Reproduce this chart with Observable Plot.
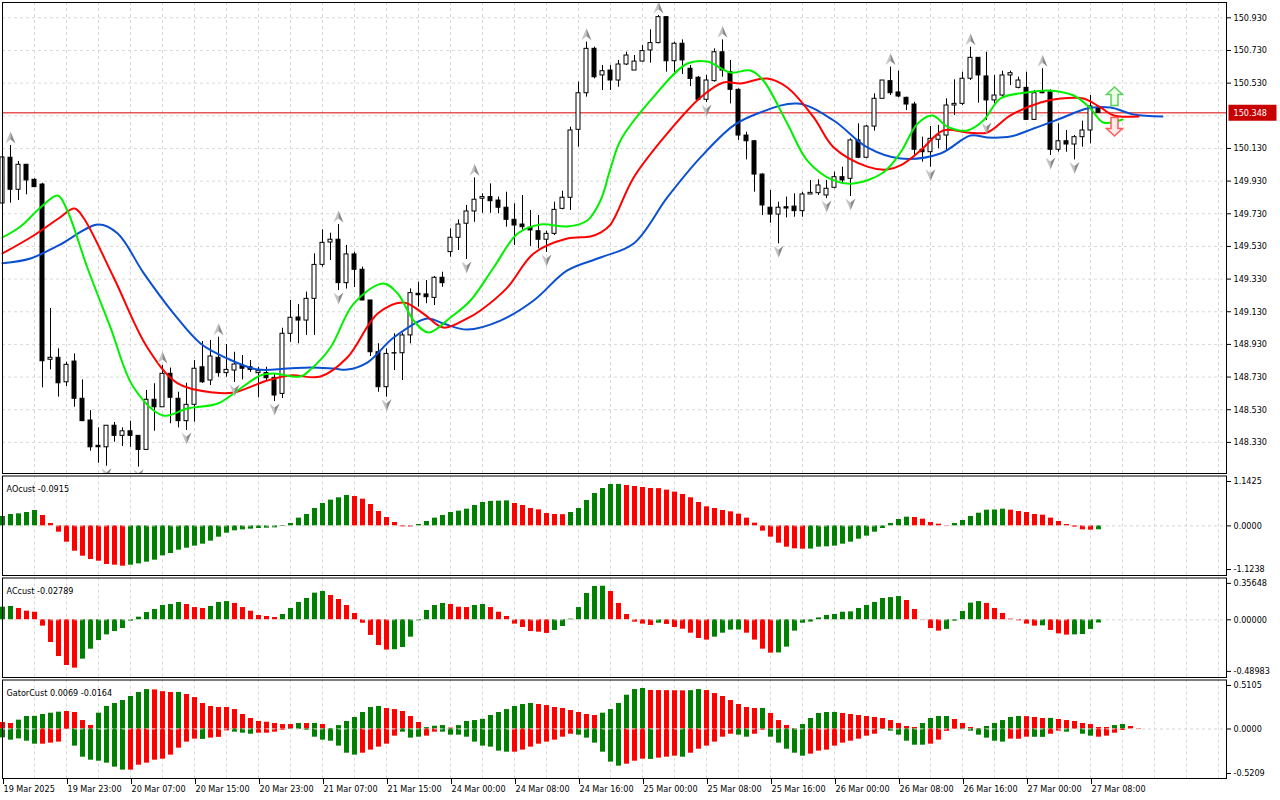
<!DOCTYPE html>
<html><head><meta charset="utf-8">
<script src="https://cdn.jsdelivr.net/npm/d3@7"></script>
<script src="https://cdn.jsdelivr.net/npm/@observablehq/plot@0.6"></script>
<style>
html,body{margin:0;padding:0;background:#fff;}
#wrap{position:relative;width:1280px;height:800px;overflow:hidden;background:#fff;}
#wrap svg{position:absolute;left:0;}
</style></head><body><div id="wrap"></div>
<script>
// ---------- DATA ----------
const timeLabels = ["19 Mar 2025","19 Mar 23:00","20 Mar 07:00","20 Mar 15:00","20 Mar 23:00","21 Mar 07:00","21 Mar 15:00","24 Mar 00:00","24 Mar 08:00","24 Mar 16:00","25 Mar 00:00","25 Mar 08:00","25 Mar 16:00","26 Mar 00:00","26 Mar 08:00","26 Mar 16:00","27 Mar 00:00","27 Mar 08:00"];

const opens = [149.793,150.073,149.877,150.030,149.938,149.909,148.836,148.848,148.698,148.825,
148.597,148.464,148.309,148.300,148.432,148.370,148.398,148.370,148.284,148.591,
148.545,148.750,148.597,148.460,148.560,148.790,148.709,148.848,148.754,148.770,
148.799,148.790,148.754,148.754,148.725,148.627,148.995,149.095,149.076,149.209,
149.417,149.554,149.571,149.305,149.481,149.387,149.199,148.882,148.668,148.876,
148.876,148.985,149.240,149.236,149.215,149.338,149.495,149.583,149.669,149.744,
149.822,149.832,149.811,149.767,149.693,149.664,149.644,149.623,149.571,149.607,
149.760,149.828,150.244,150.468,150.740,150.577,150.607,150.546,150.644,150.607,
150.662,150.730,150.775,150.934,150.664,150.771,150.618,150.563,150.428,150.542,
150.719,150.597,150.489,150.209,150.174,149.970,149.767,149.725,149.770,149.774,
149.746,149.848,149.856,149.842,149.889,149.954,149.944,150.179,150.073,150.264,
150.434,150.542,150.473,150.440,150.399,150.122,150.107,150.183,150.209,150.393,
150.403,150.557,150.685,150.571,150.424,150.454,150.577,150.501,150.501,150.305,
150.481,150.474,150.122,150.174,150.154,150.199,150.240,150.379];
const highs = [150.136,150.148,150.050,150.032,149.944,149.917,149.150,148.903,148.821,148.872,
148.713,148.525,148.419,148.432,148.452,148.419,148.460,148.370,148.648,148.689,
148.801,148.785,148.637,148.692,148.831,148.948,148.954,148.974,148.929,148.882,
148.862,148.831,148.790,148.790,148.750,149.029,149.199,149.174,149.250,149.485,
149.632,149.611,149.664,149.536,149.495,149.403,149.199,148.934,148.903,148.995,
148.999,149.270,149.311,149.321,149.346,149.372,149.638,149.693,149.781,149.950,
149.852,149.913,149.832,149.862,149.791,149.842,149.750,149.719,149.623,149.801,
149.868,150.260,150.536,150.781,150.750,150.638,150.638,150.669,150.719,150.699,
150.760,150.857,150.944,150.938,150.781,150.795,150.638,150.571,150.577,150.740,
150.795,150.669,150.495,150.229,150.179,149.975,149.872,149.801,149.832,149.852,
149.862,149.934,149.938,149.934,149.985,150.015,150.189,150.281,150.271,150.465,
150.546,150.628,150.603,150.444,150.413,150.199,150.264,150.271,150.434,150.550,
150.597,150.750,150.685,150.719,150.577,150.603,150.603,150.566,150.597,150.485,
150.618,150.489,150.281,150.240,150.209,150.297,150.454,150.387];
const lows = [149.781,149.795,149.811,149.846,149.893,148.664,148.774,148.607,148.672,148.545,
148.460,148.276,148.202,148.184,148.331,148.305,148.300,148.178,148.284,148.398,
148.545,148.444,148.419,148.403,148.454,148.692,148.678,148.729,148.729,148.697,
148.713,148.758,148.603,148.709,148.580,148.599,148.943,148.934,148.985,148.985,
149.403,149.444,149.260,149.269,149.278,149.199,148.856,148.637,148.607,148.770,
148.709,148.934,149.158,149.179,149.168,149.280,149.464,149.505,149.450,149.678,
149.733,149.733,149.730,149.648,149.536,149.628,149.530,149.515,149.493,149.597,
149.754,149.750,150.138,150.444,150.556,150.485,150.485,150.505,150.638,150.607,
150.658,150.652,150.771,150.597,150.587,150.583,150.509,150.424,150.411,150.536,
150.566,150.403,150.179,150.060,149.862,149.719,149.672,149.546,149.705,149.709,
149.709,149.848,149.842,149.823,149.883,149.917,149.836,150.067,150.067,150.236,
150.434,150.454,150.440,150.362,150.087,150.046,150.015,150.128,150.117,150.332,
150.393,150.546,150.407,150.301,150.403,150.444,150.515,150.495,150.301,150.301,
150.465,150.087,150.107,150.107,150.060,150.138,150.158,150.348];
const closes = [150.075,149.877,150.030,149.934,149.893,148.827,148.848,148.692,148.805,148.597,
148.460,148.300,148.300,148.432,148.370,148.398,148.370,148.284,148.591,148.545,
148.750,148.603,148.460,148.560,148.781,148.698,148.856,148.754,148.774,148.807,
148.781,148.774,148.766,148.723,148.617,148.995,149.093,149.076,149.209,149.417,
149.552,149.571,149.305,149.481,149.387,149.199,148.882,148.668,148.872,148.874,
148.985,149.244,149.231,149.219,149.338,149.305,149.583,149.664,149.744,149.816,
149.832,149.807,149.767,149.693,149.658,149.648,149.628,149.571,149.607,149.754,
149.828,150.240,150.468,150.740,150.566,150.603,150.546,150.644,150.699,150.662,
150.726,150.775,150.934,150.664,150.771,150.669,150.556,150.428,150.546,150.719,
150.607,150.489,150.209,150.174,149.970,149.781,149.725,149.767,149.762,149.746,
149.848,149.858,149.903,149.883,149.954,149.934,150.179,150.073,150.264,150.434,
150.546,150.468,150.448,150.399,150.122,150.107,150.189,150.209,150.393,150.403,
150.557,150.685,150.577,150.424,150.454,150.577,150.591,150.546,150.305,150.468,
150.468,150.122,150.174,150.154,150.199,150.240,150.387,150.348];

const lastPrice = 150.348;
const priceTicks = [150.93,150.73,150.53,150.13,149.93,149.73,149.53,149.33,149.13,148.93,148.73,148.53,148.33];
const priceGrid = [150.93,150.73,150.53,150.33,150.13,149.93,149.73,149.53,149.33,149.13,148.93,148.73,148.53,148.33];

// Alligator lines: [bar, price]
const jaw = [[0,149.427],[3.5,149.456],[7,149.536],[12,149.664],[14.4,149.609],[17.6,149.370],[21.4,149.119],[24.75,148.936],[28.1,148.844],[31.9,148.776],[35.6,148.782],[38.5,148.789],[41.4,148.782],[43.1,148.776],[45.6,148.819],[48.9,148.972],[53.1,149.089],[55.1,149.058],[58.1,149.021],[62.25,149.076],[66.4,149.199],[70.6,149.383],[74.75,149.462],[78.9,149.548],[83.1,149.830],[87.25,150.075],[91.4,150.271],[94.4,150.344],[99.4,150.405],[103.9,150.301],[108.1,150.136],[112.25,150.068],[117.25,150.099],[121,150.209],[123.1,150.197],[126,150.203],[128.9,150.252],[132.25,150.313],[135.6,150.375],[138.5,150.381],[141.4,150.338],[145,150.326]];
const teeth = [[0,149.487],[3.9,149.597],[7,149.701],[9,149.762],[10.1,149.707],[13.9,149.340],[18.1,148.911],[21.9,148.691],[26.4,148.635],[28.9,148.635],[33.1,148.709],[36,148.740],[39.75,148.733],[43.1,148.850],[46.9,149.119],[50.1,149.187],[52.6,149.119],[55.1,149.033],[58.1,149.089],[59.75,149.138],[63.1,149.278],[66.4,149.487],[70.6,149.578],[73.5,149.591],[74.75,149.615],[76,149.664],[78.9,149.952],[83.1,150.222],[87.25,150.442],[90.1,150.534],[92.25,150.528],[95.6,150.558],[98.1,150.503],[101.4,150.320],[103.9,150.136],[108.1,150.019],[110.6,150.001],[112.25,150.026],[114.75,150.117],[117.6,150.240],[120.6,150.228],[123.1,150.228],[126,150.332],[129.75,150.411],[132.25,150.436],[135.1,150.436],[137.25,150.381],[138.9,150.332],[142,150.326]];
const lips = [[0,149.585],[2.25,149.652],[4.75,149.768],[6.9,149.842],[8.1,149.750],[10.6,149.401],[13.5,149.033],[16.4,148.666],[20.1,148.495],[23.1,148.537],[26.9,148.568],[29.4,148.648],[32.25,148.740],[33.9,148.752],[37.25,148.733],[38.5,148.776],[41,148.911],[43.9,149.180],[47.6,149.303],[49.4,149.242],[51.4,149.076],[53.25,149.003],[56,149.095],[58.5,149.199],[61.4,149.401],[64.4,149.609],[67.25,149.664],[70.6,149.652],[73.1,149.689],[74.75,149.811],[76,150.007],[77.25,150.179],[81,150.424],[85.6,150.650],[88.1,150.662],[91,150.595],[93.5,150.607],[95.1,150.546],[98.1,150.283],[100.6,150.056],[103.9,149.934],[106.4,149.915],[110.1,149.983],[112.25,150.105],[114.4,150.283],[116.25,150.332],[118.1,150.264],[120.6,150.240],[122.6,150.301],[124.75,150.436],[128.1,150.473],[130.6,150.485],[133.9,150.454],[136,150.375],[137.6,150.289],[140,150.307]];

const upFractalBars = [1,20,27,42,59,73,82,90,111,121,130];
const downFractalBars = [13,17,23,29,34,42,48,58,68,88,97,103,106,116,123,131,134];
const signals = [{bar:139, price:150.448, dir:"up"},{bar:139, price:150.264, dir:"down"}];

const aoValues = [0.222,0.269,0.285,0.316,0.364,0.246,0.057,-0.148,-0.384,-0.597,
-0.715,-0.793,-0.833,-0.911,-0.927,-0.951,-0.927,-0.896,-0.856,-0.809,
-0.707,-0.652,-0.573,-0.526,-0.478,-0.431,-0.360,-0.266,-0.172,-0.116,
-0.093,-0.077,-0.061,-0.054,-0.046,-0.014,0.057,0.183,0.269,0.411,
0.529,0.608,0.663,0.718,0.694,0.631,0.505,0.340,0.198,0.080,
-0.022,-0.025,0.033,0.104,0.183,0.246,0.316,0.348,0.395,0.482,
0.553,0.578,0.584,0.590,0.529,0.482,0.411,0.379,0.292,0.269,
0.265,0.316,0.411,0.600,0.765,0.883,0.977,0.980,0.954,0.930,
0.907,0.883,0.880,0.844,0.797,0.742,0.663,0.553,0.450,0.411,
0.364,0.332,0.277,0.183,0.065,-0.124,-0.266,-0.408,-0.502,-0.541,
-0.549,-0.547,-0.502,-0.494,-0.478,-0.431,-0.384,-0.313,-0.242,-0.148,
-0.061,0.057,0.151,0.206,0.198,0.159,0.080,0.041,0.009,0.057,
0.127,0.222,0.300,0.371,0.375,0.395,0.371,0.340,0.316,0.269,
0.253,0.183,0.104,0.033,-0.030,-0.093,-0.101,-0.0915];
const aoColors = "GGGGGRRRRR RRRRRRGGGG GGGGGGGGGG GGGGGGGGGG GGGGRRRRRR RRGGGGGGGG GGGGRRRRRR RGGGGGGGRR RRRRRRRRRR RRRRRRRRRR RGGGGGGGGG GGGGRRRRRG GGGGGGRRRR RRRRRRRG";
const aoTicks = [1.1425, 0, -1.1238];

const acValues = [0.111,0.117,0.100,0.076,0.067,-0.056,-0.200,-0.324,-0.403,-0.426,
-0.347,-0.259,-0.183,-0.133,-0.103,-0.077,-0.012,0.023,0.064,0.091,
0.126,0.135,0.153,0.135,0.108,0.100,0.117,0.153,0.161,0.144,
0.108,0.076,0.038,0.029,0.020,0.047,0.100,0.153,0.188,0.235,
0.250,0.214,0.179,0.126,0.056,-0.030,-0.138,-0.227,-0.267,-0.264,
-0.244,-0.153,-0.009,0.082,0.126,0.144,0.135,0.111,0.108,0.126,
0.135,0.108,0.067,0.029,-0.038,-0.068,-0.103,-0.109,-0.120,-0.094,
-0.059,0.006,0.108,0.232,0.294,0.296,0.250,0.144,0.047,-0.021,
-0.038,-0.050,-0.030,-0.041,-0.068,-0.083,-0.118,-0.165,-0.179,-0.153,
-0.118,-0.091,-0.090,-0.118,-0.179,-0.259,-0.294,-0.292,-0.241,-0.100,
-0.030,-0.020,0.017,0.038,0.047,0.067,0.070,0.100,0.126,0.153,
0.188,0.196,0.205,0.170,0.091,-0.003,-0.077,-0.100,-0.085,-0.012,
0.073,0.147,0.161,0.144,0.100,0.056,0.006,-0.009,-0.038,-0.056,
-0.053,-0.094,-0.124,-0.135,-0.133,-0.130,-0.085,-0.0279];
const acColors = "GGRRRRRRRR GGGGGGGGGG GGGRRRGGGR RRRRRGGGGG GRRRRRRRRG GGGGGGRRRG GRRRRRRRRG GGGGGGRRRR RRGRRRRRRG GGGRRRRGGG GGGGGGGGGG GGGRRRRRGG GGGRRRRRRR GRRRGGGG";
const acTicks = [0.35648, 0, -0.48983];

const gatorUp = [0.070,0.059,0.095,0.134,0.136,0.156,0.170,0.181,0.188,0.177,
0.091,0.038,0.170,0.242,0.274,0.306,0.349,0.392,0.424,0.420,
0.401,0.392,0.393,0.371,0.338,0.274,0.242,0.231,0.231,0.209,
0.156,0.113,0.081,0.073,0.059,0.048,0.048,0.059,0.059,0.060,
0.048,0.005,0.037,0.081,0.124,0.177,0.231,0.242,0.220,0.209,
0.188,0.134,0.070,0.015,0.030,0.037,0.010,0.037,0.081,0.091,
0.104,0.145,0.177,0.209,0.242,0.263,0.274,0.263,0.252,0.231,
0.220,0.199,0.177,0.156,0.145,0.170,0.209,0.274,0.363,0.424,
0.435,0.414,0.413,0.412,0.411,0.410,0.412,0.424,0.413,0.381,
0.349,0.306,0.263,0.231,0.220,0.221,0.167,0.091,0.038,0.005,
0.048,0.113,0.167,0.177,0.178,0.167,0.156,0.145,0.134,0.124,
0.113,0.091,0.059,0.027,0.016,0.059,0.113,0.134,0.134,0.102,
0.059,0.016,0.005,0.027,0.059,0.091,0.124,0.134,0.133,0.124,
0.113,0.114,0.102,0.091,0.081,0.059,0.048,0.016,0.016,0.037,
0.048,0.027,0.005];
const gatorUpColors = "RRGGGGGGRR RRGGGGGGGR RRGRRRRRRR RRRRRRRGRG RGGGGGGGRR RRRGGGRGGG GGGGGGGRRR RRRRRGGGGG GRRRRRGGRR RRRRRGRRRR GGGGGRRRRR RRRRRGGGGR RRRGGGGGRR RGRRRRRRRG GRR";
const gatorDown = [-0.095,-0.120,-0.106,-0.131,-0.163,-0.163,-0.152,-0.141,-0.005,-0.184,
-0.303,-0.335,-0.346,-0.367,-0.410,-0.442,-0.442,-0.389,-0.367,-0.335,
-0.324,-0.281,-0.206,-0.141,-0.109,-0.112,-0.098,-0.090,-0.020,-0.034,
-0.045,-0.056,-0.045,-0.045,-0.034,-0.013,-0.005,-0.005,-0.013,-0.088,
-0.120,-0.131,-0.184,-0.260,-0.281,-0.260,-0.227,-0.195,-0.163,-0.077,
-0.034,-0.098,-0.088,-0.077,-0.034,-0.034,-0.066,-0.066,-0.088,-0.141,
-0.184,-0.195,-0.238,-0.249,-0.249,-0.227,-0.195,-0.163,-0.141,-0.120,
-0.088,-0.056,-0.066,-0.098,-0.152,-0.249,-0.356,-0.399,-0.378,-0.346,
-0.324,-0.327,-0.313,-0.303,-0.292,-0.303,-0.260,-0.217,-0.184,-0.141,
-0.088,-0.056,-0.066,-0.088,-0.056,-0.013,-0.088,-0.152,-0.217,-0.260,
-0.292,-0.270,-0.238,-0.227,-0.184,-0.152,-0.131,-0.109,-0.077,-0.056,
-0.005,-0.023,-0.066,-0.131,-0.174,-0.174,-0.163,-0.120,-0.025,-0.005,
-0.007,-0.023,-0.066,-0.098,-0.131,-0.141,-0.109,-0.110,-0.088,-0.089,
-0.090,-0.056,-0.023,-0.034,-0.002,-0.056,-0.077,-0.088,-0.077,-0.045,
-0.016];
const gatorDownColors = "GGGGGRRRRG GGGGGGRRRR RRRRRGRRRG GGRRRRGGGG GGGGGRRRRR GGGRRGGGGG GGGGRRRRRR RRGGGGGGRR RGRRRGRRRR RRGGRRGGGG GRRRRRRRRR GGGGGGRRRR GGGGGGRRRG GRRGRGGRRRR";
const gatorTicks = [0.5105, 0, -0.5209];

const panelTitles = ["AOcust -0.0915", "ACcust -0.02789", "GatorCust 0.0069 -0.0164"];

// ---------- BUILD ----------
const FONT = '"DejaVu Sans Condensed","Liberation Sans Narrow","Liberation Sans",sans-serif';
const GREEN = "#008000", RED = "#ff0000";
const GRID = "#d9d9d9";
const wrap = document.getElementById("wrap");
const xScale = {domain: [0, 153], axis: null};
const gridBars = d3.range(4, 153, 4);
const timeTicks = timeLabels.map((_, k) => k * 8);

const candles = opens.map((o, i) => ({i, o, h: highs[i], l: lows[i], c: closes[i]}));
const bull = candles.filter(d => d.c >= d.o), bear = candles.filter(d => d.c < d.o);
const upFr = upFractalBars.map(i => candles[i]);
const dnFr = downFractalBars.map(i => candles[i]);

const poly = pts => ({draw(ctx) { ctx.moveTo(pts[0][0], pts[0][1]); for (const p of pts.slice(1)) ctx.lineTo(p[0], p[1]); ctx.closePath(); }});
const frUpL = poly([[0,-6],[-5,6],[0,2]]), frUpR = poly([[0,-6],[0,2],[5,6]]);
const frDnL = poly([[0,6],[-5,-6],[0,-2]]), frDnR = poly([[0,6],[0,-2],[5,-6]]);
const bigUp = poly([[0,-9.5],[8,-2],[3.5,-2],[3.5,9],[-3.5,9],[-3.5,-2],[-8,-2]]);
const bigDn = poly([[0,9.5],[8,2],[3.5,2],[3.5,-9],[-3.5,-9],[-3.5,2],[-8,2]]);
const priceBox = {draw(ctx) { ctx.rect(-24, -8, 48, 16); }};

const baseStyle = {background: "transparent", fontFamily: FONT, fontSize: "9px", color: "#000", overflow: "visible"};

function place(svg, top) { svg.style.top = top + "px"; wrap.appendChild(svg); }

// Main price panel
const main = Plot.plot({
  width: 1280, height: 475, marginTop: 2, marginBottom: 2, marginLeft: 2, marginRight: 54,
  style: baseStyle,
  x: xScale,
  y: {domain: [148.1395, 151.0237], axis: null},
  marks: [
    Plot.ruleX(gridBars, {x: d => d, stroke: GRID, strokeDasharray: "3,3"}),
    Plot.ruleY(priceGrid, {y: d => d, stroke: GRID, strokeDasharray: "3,3"}),
    Plot.ruleY([lastPrice], {y: d => d, stroke: "#dd0000"}),
    Plot.ruleX(candles, {x: "i", y1: "l", y2: "h", stroke: "#000", strokeWidth: 1}),
    Plot.rect(bull, {x1: d => d.i - 0.25, x2: d => d.i + 0.25, y1: "o", y2: "c", fill: "#fff", stroke: "#000"}),
    Plot.rect(bear, {x1: d => d.i - 0.25, x2: d => d.i + 0.25, y1: "o", y2: "c", fill: "#000", stroke: "#000"}),
    Plot.line(jaw, {x: d => d[0], y: d => d[1], stroke: "#0a50d2", strokeWidth: 2, curve: "catmull-rom"}),
    Plot.line(teeth, {x: d => d[0], y: d => d[1], stroke: "#ff0000", strokeWidth: 2, curve: "catmull-rom"}),
    Plot.line(lips, {x: d => d[0], y: d => d[1], stroke: "#00f000", strokeWidth: 2, curve: "catmull-rom"}),
    Plot.dot(upFr, {x: "i", y: "h", dy: -8, symbol: frUpL, fill: "#c4c4c4", stroke: "none", clip: true}),
    Plot.dot(upFr, {x: "i", y: "h", dy: -8, symbol: frUpR, fill: "#8a8a8a", stroke: "none", clip: true}),
    Plot.dot(dnFr, {x: "i", y: "l", dy: 8, symbol: frDnL, fill: "#c4c4c4", stroke: "none", clip: true}),
    Plot.dot(dnFr, {x: "i", y: "l", dy: 8, symbol: frDnR, fill: "#8a8a8a", stroke: "none", clip: true}),
    Plot.dot(signals.filter(d => d.dir === "up"), {x: "bar", y: "price", symbol: bigUp, fill: "#eaffe6", stroke: "#5ccf5c", strokeWidth: 1.5}),
    Plot.dot(signals.filter(d => d.dir === "down"), {x: "bar", y: "price", symbol: bigDn, fill: "#ffeaea", stroke: "#ff5a5a", strokeWidth: 1.5}),
    Plot.frame({stroke: "#000"}),
    Plot.axisY(priceTicks, {anchor: "right", tickSize: 4, tickPadding: 3, tickFormat: d => d.toFixed(3), label: null}),
    Plot.dot([lastPrice], {y: d => d, frameAnchor: "right", dx: 26, symbol: priceBox, fill: "#c80000", stroke: "none"}),
    Plot.text([lastPrice], {y: d => d, frameAnchor: "right", dx: 7, textAnchor: "start", fill: "#fff", text: d => d.toFixed(3)})
  ]
});
place(main, 0);

function histPanel({top, height, marginBottom, domain, series, ticks, digits, title, withTime}) {
  const marks = [
    Plot.ruleX(gridBars, {x: d => d, stroke: GRID, strokeDasharray: "3,3"})
  ];
  for (const s of series) {
    const data = s.values.map((v, i) => ({i, v, c: s.colors[i]}));
    marks.push(Plot.ruleX(data.filter(d => d.c === "G"), {x: "i", y1: 0, y2: "v", stroke: GREEN, strokeWidth: 5}));
    marks.push(Plot.ruleX(data.filter(d => d.c === "R"), {x: "i", y1: 0, y2: "v", stroke: RED, strokeWidth: 5}));
  }
  marks.push(
    Plot.ruleY([0], {y: d => d, stroke: "#d4d4d4", strokeDasharray: "3,3"}),
    Plot.frame({stroke: "#000"}),
    Plot.axisY([ticks[0]], {anchor: "right", tickSize: 4, tickPadding: 3, dy: 4, tickFormat: d => d.toFixed(digits), label: null}),
    Plot.axisY([ticks[1]], {anchor: "right", tickSize: 4, tickPadding: 3, tickFormat: d => d.toFixed(digits), label: null}),
    Plot.axisY([ticks[2]], {anchor: "right", tickSize: 4, tickPadding: 3, dy: -4, tickFormat: d => d.toFixed(digits), label: null}),
    Plot.text([title], {frameAnchor: "top-left", dx: 4, dy: 9.5, textAnchor: "start", text: d => d, fill: "#000"})
  );
  if (withTime) {
    marks.push(Plot.axisX(timeTicks, {anchor: "bottom", tickSize: 6, tickPadding: 1, textAnchor: "start", dx: 1, tickFormat: d => timeLabels[d / 8], label: null}));
  }
  const svg = Plot.plot({
    width: 1280, height, marginTop: 1.5, marginBottom, marginLeft: 2, marginRight: 54,
    style: baseStyle,
    x: xScale,
    y: {domain, axis: null},
    marks
  });
  place(svg, top);
}

const clean = s => s.replace(/ /g, "");
histPanel({top: 474, height: 103, marginBottom: 2, domain: [-1.1706, 1.1777],
  series: [{values: aoValues, colors: clean(aoColors)}], ticks: aoTicks, digits: 4, title: panelTitles[0]});
histPanel({top: 576, height: 103, marginBottom: 2, domain: [-0.5087, 0.3685],
  series: [{values: acValues, colors: clean(acColors)}], ticks: acTicks, digits: 5, title: panelTitles[1]});
histPanel({top: 678, height: 122, marginBottom: 22, domain: [-0.5318, 0.5264],
  series: [{values: gatorUp, colors: clean(gatorUpColors)}, {values: gatorDown, colors: clean(gatorDownColors)}],
  ticks: gatorTicks, digits: 4, title: panelTitles[2], withTime: true});
</script>
</body></html>
